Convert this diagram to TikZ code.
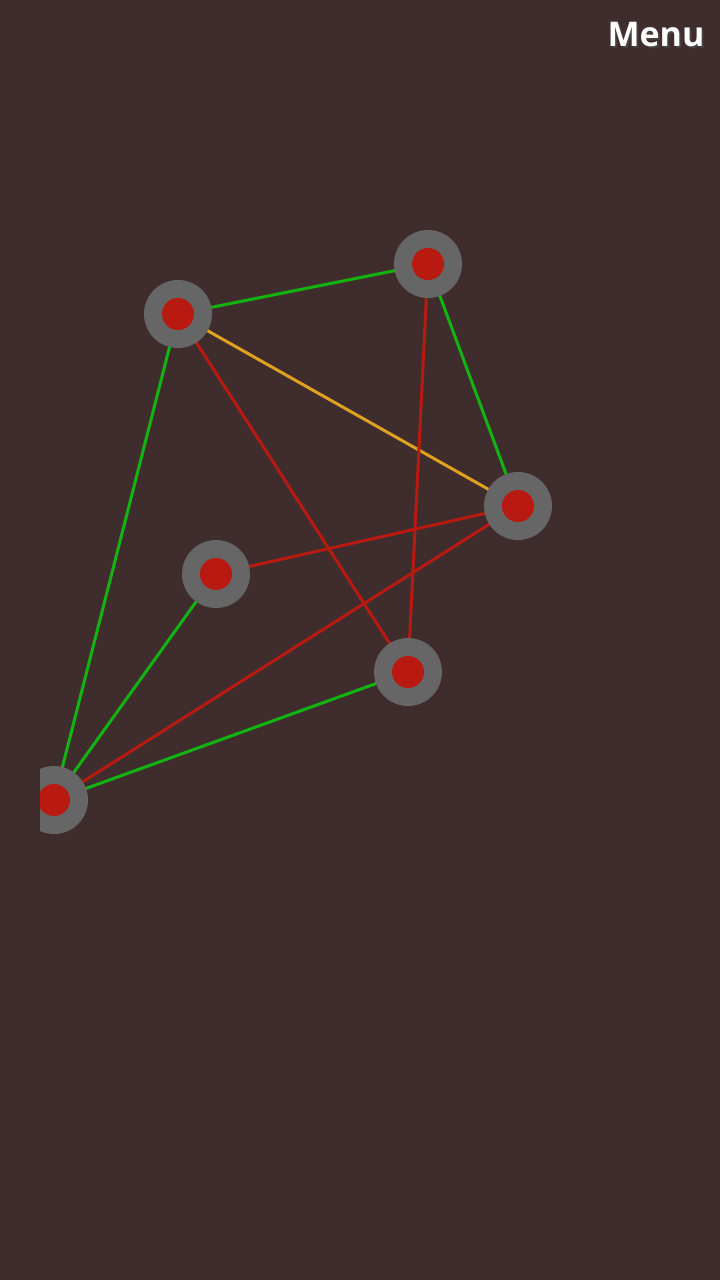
\documentclass[tikz,border=0pt]{standalone}
\usepackage{fontspec}
\setmainfont{Open Sans}
\definecolor{bg}{HTML}{3F2D2D}
\definecolor{ring}{HTML}{666666}
\definecolor{dot}{HTML}{B81A12}
\definecolor{egreen}{HTML}{12B412}
\definecolor{ered}{HTML}{B81A12}
\definecolor{eorange}{HTML}{E0A020}
\begin{document}
\begin{tikzpicture}[x=1pt,y=-1pt,
  vert/.style={circle,fill=ring,minimum size=68pt,inner sep=0pt,
    path picture={\fill[dot] (path picture bounding box.center) circle (16pt);}},
  gedge/.style={draw=egreen,line width=3pt},
  redge/.style={draw=ered,line width=3pt},
  oedge/.style={draw=eorange,line width=3pt},
  menu/.style={text=white,font=\bfseries\fontsize{34}{40}\selectfont,inner sep=0pt}]
\fill[bg] (0,0) rectangle (720,1280);
\useasboundingbox (0,0) rectangle (720,1280);
\coordinate (A) at (178,314);
\coordinate (B) at (428,264);
\coordinate (C) at (518,506);
\coordinate (D) at (216,574);
\coordinate (E) at (408,672);
\coordinate (F) at (54,800);
\draw[gedge] (A) -- (B);
\draw[gedge] (B) -- (C);
\draw[oedge] (A) -- (C);
\draw[redge] (A) -- (E);
\draw[redge] (B) -- (E);
\draw[redge] (D) -- (C);
\draw[redge] (F) -- (C);
\draw[gedge] (F) -- (D);
\draw[gedge] (F) -- (E);
\draw[gedge] (F) -- (A);
\node[vert] (nA) at (A) {};
\node[vert] (nB) at (B) {};
\node[vert] (nC) at (C) {};
\node[vert] (nD) at (D) {};
\node[vert] (nE) at (E) {};
\begin{scope}
\clip (40,0) rectangle (720,1280);
\node[vert] (nF) at (F) {};
\end{scope}
\node[menu,text=black!70,opacity=0.6] (menushadow) at (658,37) {Menu};
\node[menu] (menu) at (656,35) {Menu};
\end{tikzpicture}
\end{document}
